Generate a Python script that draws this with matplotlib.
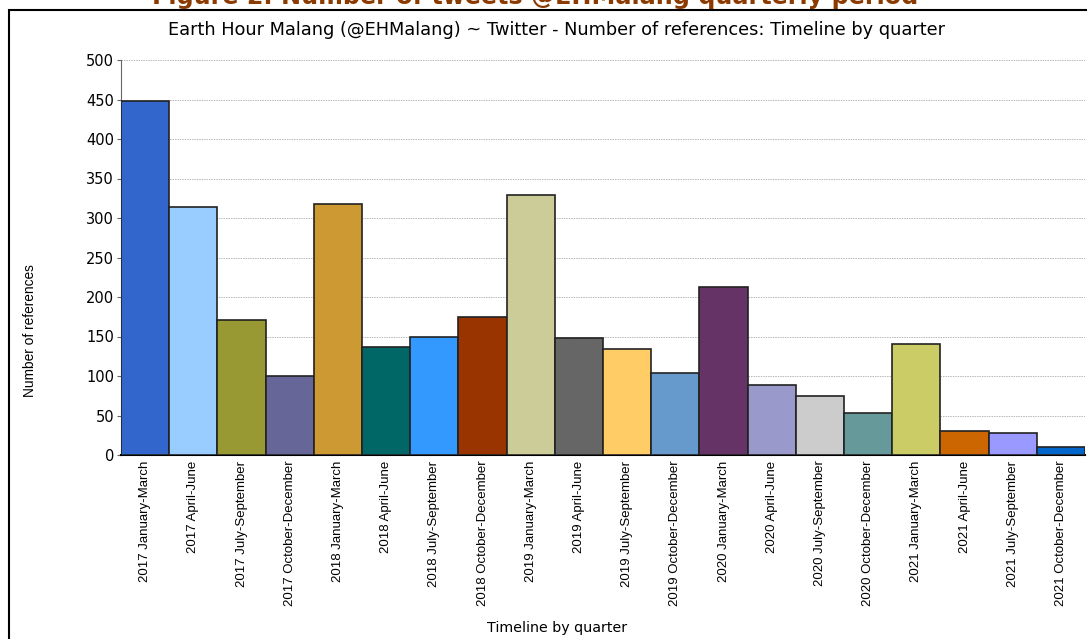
import numpy as np
import matplotlib
matplotlib.use('Agg')
import matplotlib.pyplot as plt
from matplotlib.patches import Rectangle

plt.rcParams['font.family'] = ['Liberation Sans', 'DejaVu Sans']
# the source image is stretched sideways, so horizontal texts use the wider DejaVu face
wide = ['DejaVu Sans']

quarters = ['2017 January-March', '2017 April-June', '2017 July-September', '2017 October-December',
            '2018 January-March', '2018 April-June', '2018 July-September', '2018 October-December',
            '2019 January-March', '2019 April-June', '2019 July-September', '2019 October-December',
            '2020 January-March', '2020 April-June', '2020 July-September', '2020 October-December',
            '2021 January-March', '2021 April-June', '2021 July-September', '2021 October-December']
refs = [448, 314, 171, 100, 318, 137, 149, 175, 329, 148, 134, 104, 213, 89, 75, 53, 141, 30, 28, 10]
colors = ['#3366CC', '#99CCFF', '#999933', '#666699', '#CC9933', '#006666', '#3399FF', '#993300',
          '#CCCC99', '#666666', '#FFCC66', '#6699CC', '#663366', '#9999CC', '#CCCCCC', '#669999',
          '#CCCC66', '#CC6600', '#9999FF', '#0066CC']

fig = plt.figure(figsize=(10.87, 6.39), dpi=100)
ax = fig.add_axes([121/1087, 1 - 455/639, 964/1087, 395/639])

x = np.arange(len(refs))
ax.bar(x, refs, width=1.0, color=colors, edgecolor='#222222', linewidth=1.2, zorder=3)
ax.set_xlim(-0.5, len(refs) - 0.5)
ax.set_ylim(0, 500)
ax.set_yticks(np.arange(0, 501, 50))
ax.yaxis.grid(True, linestyle=(0, (1.5, 1)), color='#b8b8b8', linewidth=0.7, zorder=0)
ax.set_xticks(x)
ax.set_xticklabels(quarters, rotation=90, fontsize=9.5)
ax.tick_params(axis='y', length=3, pad=2, color='#666666')
for lab in ax.get_yticklabels():
    lab.set_family(wide)
    lab.set_fontsize(10.5)
ax.tick_params(axis='x', length=0, pad=4)
for s in ['top', 'right']:
    ax.spines[s].set_visible(False)
ax.spines['left'].set_color('#666666')
ax.spines['bottom'].set_linewidth(1.5)

fig.text(557/1087, 1 - 30/639, 'Earth Hour Malang (@EHMalang) ~ Twitter - Number of references: Timeline by quarter',
         ha='center', va='center', fontsize=12.8, family=wide)
fig.text(30/1087, 1 - 331/639, 'Number of references', rotation=90, ha='center', va='center', fontsize=9.9)
fig.text(557/1087, 1 - 628/639, 'Timeline by quarter', ha='center', va='center', fontsize=10.3, family=wide)

# cut-off caption above the frame
fig.text(535/1087, 1 - 4/639, 'Figure 2. Number of tweets @EHMalang quarterly period',
         ha='center', va='baseline', fontsize=17.2, fontweight='bold', color='#8B3A00', family=wide)

fig.patches.append(Rectangle((9/1087, -0.05), 1.1, 1 - 10/639 + 0.05, transform=fig.transFigure,
                             fill=False, edgecolor='black', linewidth=1.5))

fig.savefig('out.png', dpi=100)
